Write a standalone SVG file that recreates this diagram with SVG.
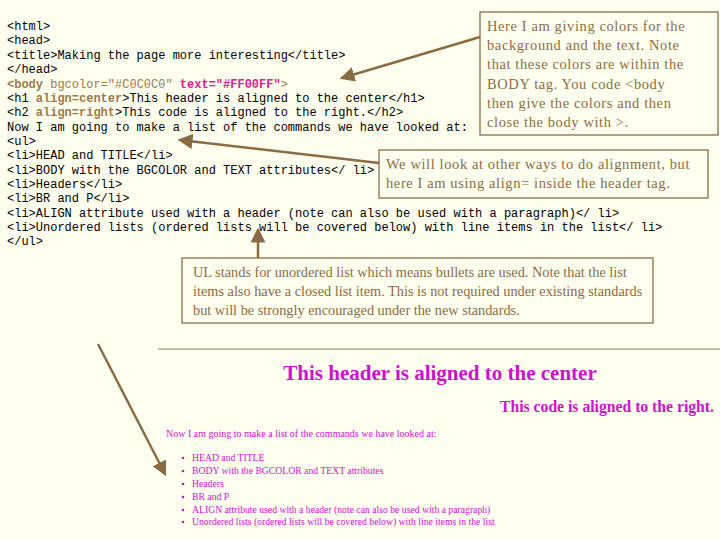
<svg xmlns="http://www.w3.org/2000/svg" width="720" height="540" viewBox="0 0 720 540">
<style>
.c{font-family:"Liberation Mono",monospace;font-size:12px;fill:#000}
.b{font-weight:bold;fill:#9B7A4A}
.br{fill:#9B7A4A}
.m{fill:#E0208F;font-weight:bold}
.n{font-family:"Liberation Serif",serif;font-size:14.5px;letter-spacing:0.6px;fill:#8B6B43}
.n3{font-family:"Liberation Serif",serif;font-size:14.3px;fill:#8B6B43}
.box{fill:none;stroke:#8B6B43;stroke-width:1.3}
.p{font-family:"Liberation Serif",serif;fill:#D010D0}
.ar{stroke:#8B6B43;stroke-width:2.5;fill:none;marker-end:url(#ah)}
</style>
<defs><marker id="ah" markerWidth="6" markerHeight="6" refX="5" refY="3" orient="auto" markerUnits="strokeWidth"><path d="M0,0L6,3L0,6z" fill="#8B6B43"/></marker></defs>
<rect width="720" height="540" fill="#FFFFF0"/>
<g id="code">
<text class="c" x="7" y="30">&lt;html&gt;</text>
<text class="c" x="7" y="44">&lt;head&gt;</text>
<text class="c" x="7" y="59">&lt;title&gt;Making the page more interesting&lt;/title&gt;</text>
<text class="c" x="7" y="73">&lt;/head&gt;</text>
<text class="c" x="7" y="88"><tspan class="b">&lt;body</tspan><tspan class="br"> bgcolor="#C0C0C0" </tspan><tspan class="m">text="#FF00FF"</tspan><tspan class="br">&gt;</tspan></text>
<text class="c" x="7" y="102">&lt;h1 <tspan class="b">align=center</tspan>&gt;This header is aligned to the center&lt;/h1&gt;</text>
<text class="c" x="7" y="116">&lt;h2 <tspan class="b">align=right</tspan>&gt;This code is aligned to the right.&lt;/h2&gt;</text>
<text class="c" x="7" y="131">Now I am going to make a list of the commands we have looked at:</text>
<text class="c" x="7" y="145">&lt;ul&gt;</text>
<text class="c" x="7" y="159">&lt;li&gt;HEAD and TITLE&lt;/li&gt;</text>
<text class="c" x="7" y="174">&lt;li&gt;BODY with the BGCOLOR and TEXT attributes&lt;/ li&gt;</text>
<text class="c" x="7" y="188">&lt;li&gt;Headers&lt;/li&gt;</text>
<text class="c" x="7" y="202">&lt;li&gt;BR and P&lt;/li&gt;</text>
<text class="c" x="7" y="217">&lt;li&gt;ALIGN attribute used with a header (note can also be used with a paragraph)&lt;/ li&gt;</text>
<text class="c" x="7" y="231">&lt;li&gt;Unordered lists (ordered lists will be covered below) with line items in the list&lt;/ li&gt;</text>
<text class="c" x="7" y="245">&lt;/ul&gt;</text>
</g>
<g id="note1"><rect class="box" x="480" y="12" width="238" height="123"/>
<text class="n" x="487" y="31">Here I am giving colors for the</text>
<text class="n" x="487" y="50">background and the text.  Note</text>
<text class="n" x="487" y="69">that these colors are within the</text>
<text class="n" x="487" y="89">BODY tag. You code &lt;body</text>
<text class="n" x="487" y="108">then give the colors and then</text>
<text class="n" x="487" y="127">close the body with &gt;.</text></g>
<g id="note2"><rect class="box" x="379" y="150" width="329" height="48"/>
<text class="n" x="386" y="169">We will look at other ways to do alignment, but</text>
<text class="n" x="386" y="188">here I am using align= inside the header tag.</text></g>
<g id="note3"><rect class="box" x="182" y="258" width="471" height="65"/>
<text class="n3" x="193" y="277">UL stands for unordered list which means bullets are used.  Note that the list</text>
<text class="n3" x="193" y="296">items also have a closed list item.  This is not required under existing standards</text>
<text class="n3" x="193" y="315">but will be strongly encouraged under the new standards.</text></g>
<line x1="158" y1="349" x2="720" y2="349" stroke="#8B7B5B" stroke-width="1.2"/>
<g id="page">
<text class="p" x="440" y="380" font-size="21" font-weight="bold" text-anchor="middle">This header is aligned to the center</text>
<text class="p" x="714" y="412" font-size="15.7" font-weight="bold" text-anchor="end">This code is aligned to the right.</text>
<text class="p" x="166" y="437" font-size="10">Now I am going to make a list of the commands we have looked at:</text>
<g font-size="9.7">
<circle cx="183" cy="458" r="1.3" fill="#D010D0"/><text class="p" x="192" y="461">HEAD and TITLE</text>
<circle cx="183" cy="471" r="1.3" fill="#D010D0"/><text class="p" x="192" y="474">BODY with the BGCOLOR and TEXT attributes</text>
<circle cx="183" cy="484" r="1.3" fill="#D010D0"/><text class="p" x="192" y="487">Headers</text>
<circle cx="183" cy="497" r="1.3" fill="#D010D0"/><text class="p" x="192" y="500">BR and P</text>
<circle cx="183" cy="510" r="1.3" fill="#D010D0"/><text class="p" x="192" y="513">ALIGN attribute used with a header (note can also be used with a paragraph)</text>
<circle cx="183" cy="522" r="1.3" fill="#D010D0"/><text class="p" x="192" y="525">Unordered lists (ordered lists will be covered below) with line items in the list</text>
</g></g>
<g id="connectors">
<line class="ar" x1="480" y1="37" x2="342" y2="78"/>
<line class="ar" x1="379" y1="163" x2="180" y2="140"/>
<line class="ar" x1="258" y1="258" x2="258" y2="230"/>
<line class="ar" x1="98" y1="344" x2="165" y2="474"/>
</g>
</svg>
